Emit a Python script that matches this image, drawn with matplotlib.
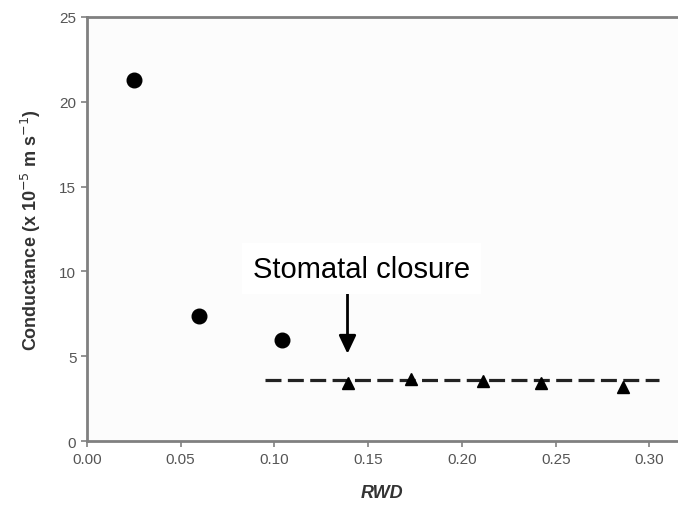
import numpy as np
import matplotlib
matplotlib.use("Agg")
import matplotlib.pyplot as plt

plt.rcParams['font.family'] = ['Liberation Sans', 'DejaVu Sans']

# open stomata (circles) and closed stomata (triangles)
rwd_open = [0.025, 0.060, 0.104]
cond_open = [21.25, 7.35, 5.95]
rwd_closed = [0.139, 0.173, 0.211, 0.242, 0.286]
cond_closed = [3.45, 3.65, 3.55, 3.45, 3.2]

# mean conductance after closure, drawn as dashed line
line_x = [0.095, 0.305]
line_y = [3.6, 3.6]

arrow_x = 0.139
arrow_from = 8.8
arrow_to = 5.15

fig = plt.figure(figsize=(6.78, 5.10), dpi=100)
fig.patch.set_facecolor('white')
ax = fig.add_axes([0.128, 0.133, 0.872, 0.832])
ax.set_facecolor('#fcfcfc')

ax.plot(line_x, line_y, color='#222222', lw=2.3, dashes=(5, 2), zorder=2)
ax.plot(rwd_open, cond_open, 'o', color='black', ms=10.5, zorder=3)
ax.plot(rwd_closed, cond_closed, '^', color='black', ms=8.5, zorder=3)

ax.annotate('', xy=(arrow_x, arrow_to), xytext=(arrow_x, arrow_from),
            arrowprops=dict(arrowstyle='-|>,head_length=0.55,head_width=0.26',
                            color='black', lw=2, mutation_scale=20,
                            shrinkA=0, shrinkB=0))
ax.text(0.0886, 9.7, 'Stomatal closure', fontsize=21, color='black',
        ha='left', va='baseline',
        bbox=dict(facecolor='white', edgecolor='none', pad=8))

ax.set_xlim(0, 0.3152)
ax.set_ylim(0, 25)
ax.set_xticks(np.arange(0, 0.31, 0.05))
ax.set_xticklabels(['0.00', '0.05', '0.10', '0.15', '0.20', '0.25', '0.30'])
ax.set_yticks([0, 5, 10, 15, 20, 25])

for side in ['left', 'bottom', 'top']:
    ax.spines[side].set_color('#808080')
    ax.spines[side].set_linewidth(2)
ax.spines['right'].set_visible(False)
ax.tick_params(colors='#808080', labelcolor='#555555', labelsize=11,
               length=4, width=1.2, direction='out')

ax.set_xlabel('RWD', fontsize=13, fontweight='bold', fontstyle='italic',
              color='#333333', labelpad=13)
ax.set_ylabel(r'Conductance (x 10$^{-5}$ m s$^{-1}$)', fontsize=13,
              fontweight='bold', color='#333333', labelpad=12)

plt.savefig('out.png', dpi=100)
